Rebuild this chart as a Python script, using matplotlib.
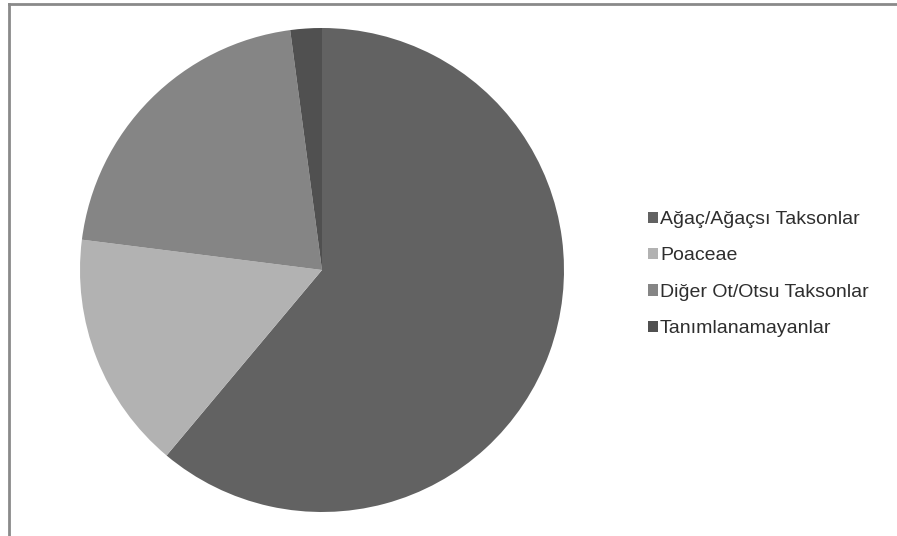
import matplotlib.pyplot as plt

plt.rcParams['font.family'] = ['Liberation Sans', 'DejaVu Sans']

# Taxon shares (%)
labels = ['Ağaç/Ağaçsı Taksonlar', 'Poaceae', 'Diğer Ot/Otsu Taksonlar', 'Tanımlanamayanlar']
values = [61.1, 15.9, 20.9, 2.1]
colors = ['#626262', '#b2b2b2', '#858585', '#505050']

fig = plt.figure(figsize=(8.97, 5.36), dpi=100)
ax = fig.add_axes([80 / 897, 24 / 536, 484 / 897, 484 / 536])

wedges, _ = ax.pie(values, colors=colors, startangle=90, counterclock=False,
                   radius=1.0, wedgeprops=dict(linewidth=0))
ax.set_xlim(-1, 1)
ax.set_ylim(-1, 1)
ax.set_aspect('equal')
ax.axis('off')

leg = ax.legend(wedges, labels, loc='upper left',
                bbox_to_anchor=(648 / 897, 1 - 211 / 536), bbox_transform=fig.transFigure,
                frameon=False, fontsize=14, handlelength=0.5, handleheight=0.5,
                handletextpad=0.12, labelspacing=1.0, borderpad=0, borderaxespad=0)
for t in leg.get_texts():
    t.set_color('#2e2e2e')

# outer frame (top and left edges visible)
fig.add_artist(plt.Line2D([8.5 / 897, 8.5 / 897], [0, 1 - 3.5 / 536],
                          transform=fig.transFigure, color='#8a8a8a', lw=2))
fig.add_artist(plt.Line2D([8.5 / 897, 1], [1 - 3.5 / 536, 1 - 3.5 / 536],
                          transform=fig.transFigure, color='#8a8a8a', lw=2))

fig.savefig('out.png', dpi=100)
